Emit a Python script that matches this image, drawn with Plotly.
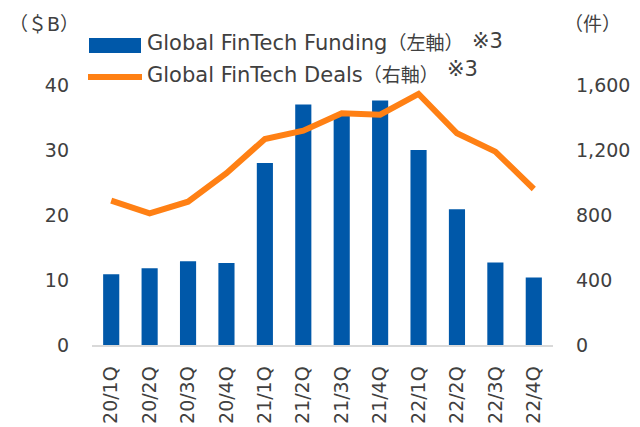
import plotly.graph_objects as go

quarters = ["20/1Q", "20/2Q", "20/3Q", "20/4Q", "21/1Q", "21/2Q",
            "21/3Q", "21/4Q", "22/1Q", "22/2Q", "22/3Q", "22/4Q"]
funding_bn = [10.9, 11.8, 12.9, 12.6, 28.0, 37.0, 35.5, 37.6, 30.0, 20.9, 12.7, 10.4]
deals = [888, 810, 882, 1057, 1268, 1319, 1426, 1417, 1545, 1303, 1190, 960]

left_ticks = [0, 10, 20, 30, 40]
right_ticks = [0, 400, 800, 1200, 1600]

BLUE = "#0058A9"
ORANGE = "#FF8014"
TXT = "#404040"
FONT = "DejaVu Sans, Noto Sans CJK JP, sans-serif"

W, H = 640, 427
ML, MR, MT, MB = 92, 87, 85, 82
PW, PH = W - ML - MR, H - MT - MB


def px(x):
    return (x - ML) / PW


def py(y):
    return (H - MB - y) / PH


fig = go.Figure()
fig.add_trace(go.Bar(
    x=quarters, y=funding_bn, name="Global FinTech Funding（左軸）※3",
    marker=dict(color=BLUE, line=dict(width=0)), width=0.42,
    showlegend=False, yaxis="y",
))
fig.add_trace(go.Scatter(
    x=quarters, y=deals, name="Global FinTech Deals（右軸）※3",
    mode="lines", line=dict(color=ORANGE, width=6),
    showlegend=False, yaxis="y2",
))

fig.update_layout(
    width=W, height=H,
    margin=dict(l=ML, r=MR, t=MT, b=MB, pad=0, autoexpand=False),
    paper_bgcolor="white", plot_bgcolor="white",
    font=dict(family=FONT, size=19, color=TXT),
    xaxis=dict(
        tickangle=-90, showgrid=False, zeroline=False, automargin=False,
        showline=True, linecolor="#D9D9D9", linewidth=1.5,
        ticks="", ticklabelstandoff=12, range=[-0.5, 11.5],
        tickfont=dict(size=19, color=TXT),
    ),
    yaxis=dict(
        range=[0, 40], tickvals=left_ticks, showgrid=False, zeroline=False,
        showline=False, ticks="", ticklabelstandoff=22, automargin=False,
        tickfont=dict(size=19, color=TXT),
    ),
    yaxis2=dict(
        range=[0, 1600], tickvals=right_ticks, tickformat=",",
        overlaying="y", side="right", showgrid=False, zeroline=False,
        showline=False, ticks="", ticklabelstandoff=22, automargin=False,
        tickfont=dict(size=19, color=TXT),
    ),
    showlegend=False,
)

# legend (drawn manually to match the wide swatches)
fig.add_shape(type="rect", xref="paper", yref="paper",
              x0=px(89), x1=px(141), y0=py(53), y1=py(38),
              fillcolor=BLUE, line=dict(width=0))
fig.add_shape(type="line", xref="paper", yref="paper",
              x0=px(88), x1=px(142), y0=py(77), y1=py(77),
              line=dict(color=ORANGE, width=6))

ann = dict(xref="paper", yref="paper", showarrow=False,
           xanchor="left", yanchor="middle", font=dict(size=21, color=TXT))
fig.add_annotation(x=px(145), y=py(43),
                   text="Global FinTech Funding<span style='font-size:19px'>（左軸）</span>", **ann)
fig.add_annotation(x=px(470), y=py(41), text="※3", **ann)
fig.add_annotation(x=px(145), y=py(75),
                   text="Global FinTech Deals<span style='font-size:19px'>（右軸）</span>", **ann)
fig.add_annotation(x=px(445), y=py(69), text="※3", **ann)

# axis unit labels
fig.add_annotation(xref="paper", yref="paper", x=px(44), y=py(24), text="（＄B）",
                   showarrow=False, xanchor="center", yanchor="middle",
                   font=dict(size=19, color=TXT))
fig.add_annotation(xref="paper", yref="paper", x=px(592), y=py(24), text="（件）",
                   showarrow=False, xanchor="center", yanchor="middle",
                   font=dict(size=19, color=TXT))

fig.write_html("out.html", config={"displayModeBar": False},
               post_script="document.body.style.margin='0';document.body.style.padding='0';")
